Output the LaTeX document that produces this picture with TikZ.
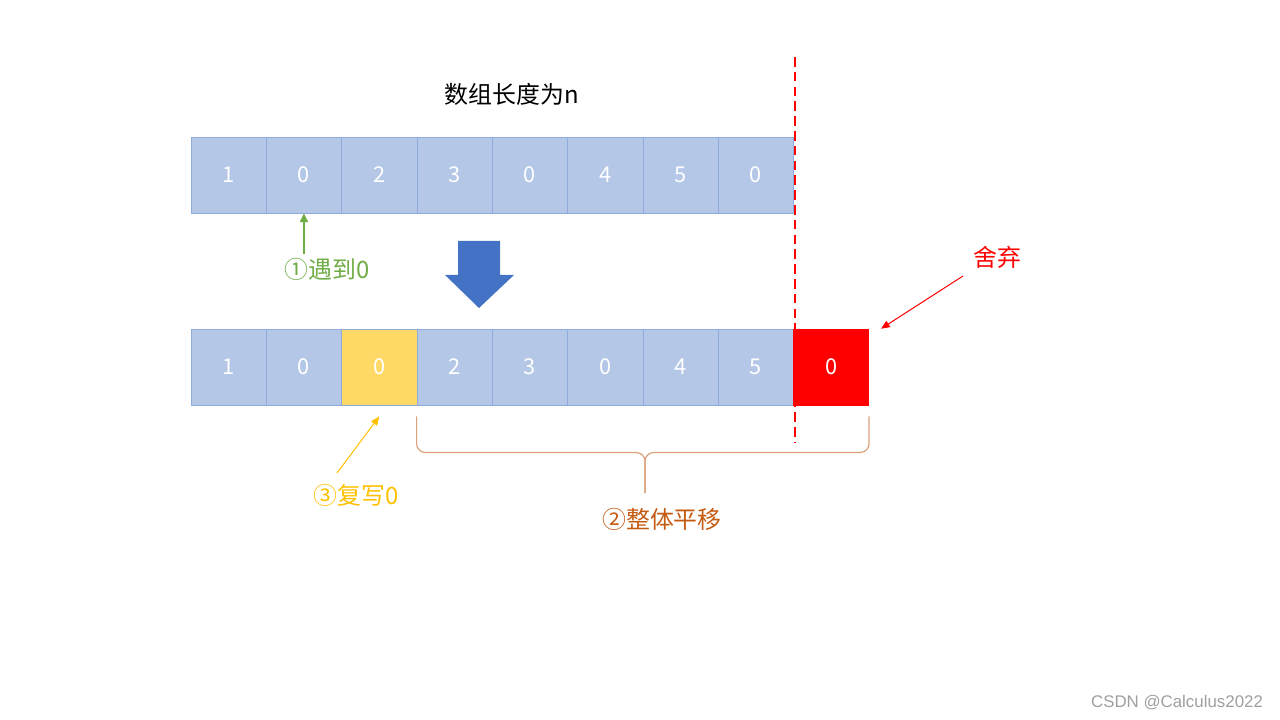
\documentclass[tikz,border=0pt]{standalone}
\usepackage{fontspec}
\setmainfont{Noto Sans CJK SC}
\newfontfamily\wmfont{Liberation Sans}
\usetikzlibrary{arrows.meta}
\definecolor{cellfill}{HTML}{B4C7E7}
\definecolor{cellline}{HTML}{8FAADC}
\definecolor{bigblue}{HTML}{4472C4}
\definecolor{stepgreen}{HTML}{70AD47}
\definecolor{stepyellow}{HTML}{FFC000}
\definecolor{copyfill}{HTML}{FFD966}
\definecolor{shiftorange}{HTML}{C55A11}
\definecolor{braceorange}{HTML}{DDA07A}
\begin{document}
\begin{tikzpicture}[x=0.025cm,y=-0.025cm,
	cell/.style={draw=cellline,fill=cellfill,minimum width=1.8825cm,minimum height=1.9cm,
		inner sep=0pt,text=white,font=\fontsize{15.5}{17}\selectfont},
	lbl/.style={inner sep=0pt,font=\fontsize{17}{19}\selectfont}]
	\useasboundingbox (0,0) rectangle (1280,720);
	% title
	\node[lbl] (title) at (512,94) {数组长度为n};
	% array before
	\foreach \v [count=\i] in {1,0,2,3,0,4,5,0}
		\node[cell] (t\i) at ({191+75.3*(\i-0.5)},175) {\v};
	% array after
	\foreach \v [count=\i] in {1,0,0,2,3,0,4,5,0}
		\node[cell] (b\i) at ({191+75.3*(\i-0.5)},367) {\v};
	\node[cell,fill=copyfill] at (b3) {0};
	\node[cell,fill=red,draw=red] at (b9) {0};
	% cut line
	\coordinate (cuttop) at (795,57);
	\coordinate (cutbot) at (795,443);
	\draw[red,line width=0.05cm,dash pattern=on 0.24cm off 0.13cm] (cuttop) -- (cutbot);
	% big arrow
	\fill[bigblue] (458,241) -- (500,241) -- (500,275) -- (514,275) -- (479,308)
		-- (445,275) -- (458,275) -- cycle;
	% step 1
	\node[lbl,text=stepgreen] (s1) at (327,269) {①遇到0};
	\draw[stepgreen,line width=0.07cm,-{Triangle[length=0.22cm,width=0.2cm]}]
		(t2.south |- s1.north) ++(0,-4) -- (t2.south);
	% step 3
	\node[lbl,text=stepyellow] (s3) at (356,495) {③复写0};
	\coordinate (s3a) at (337,473);
	\draw[stepyellow,line width=0.025cm,-{Triangle[length=0.22cm,width=0.18cm]}]
		(s3a) -- ([yshift=-0.28cm]b3.south);
	% step 2
	\draw[braceorange,line width=0.03cm,rounded corners=0.22cm]
		([yshift=-0.28cm]b4.south west) -- ++(0,36) -| (645,493);
	\draw[braceorange,line width=0.03cm,rounded corners=0.22cm]
		([yshift=-0.28cm]b9.south east) -- ++(0,36) -| (645,493);
	\node[lbl,text=shiftorange] (s2) at (662,519) {②整体平移};
	% discard
	\node[lbl,text=red] (drop) at (997,257) {舍弃};
	\coordinate (dropa) at (963,276);
	\draw[red,line width=0.025cm,-{Triangle[length=0.22cm,width=0.18cm]}]
		(dropa) -- ([xshift=0.3cm]b9.north east);
	% watermark
	\node[text=gray!75,font=\wmfont\fontsize{12}{14}\selectfont,inner sep=0pt] (wm) at (1177,703) {CSDN @Calculus2022};
\end{tikzpicture}
\end{document}
